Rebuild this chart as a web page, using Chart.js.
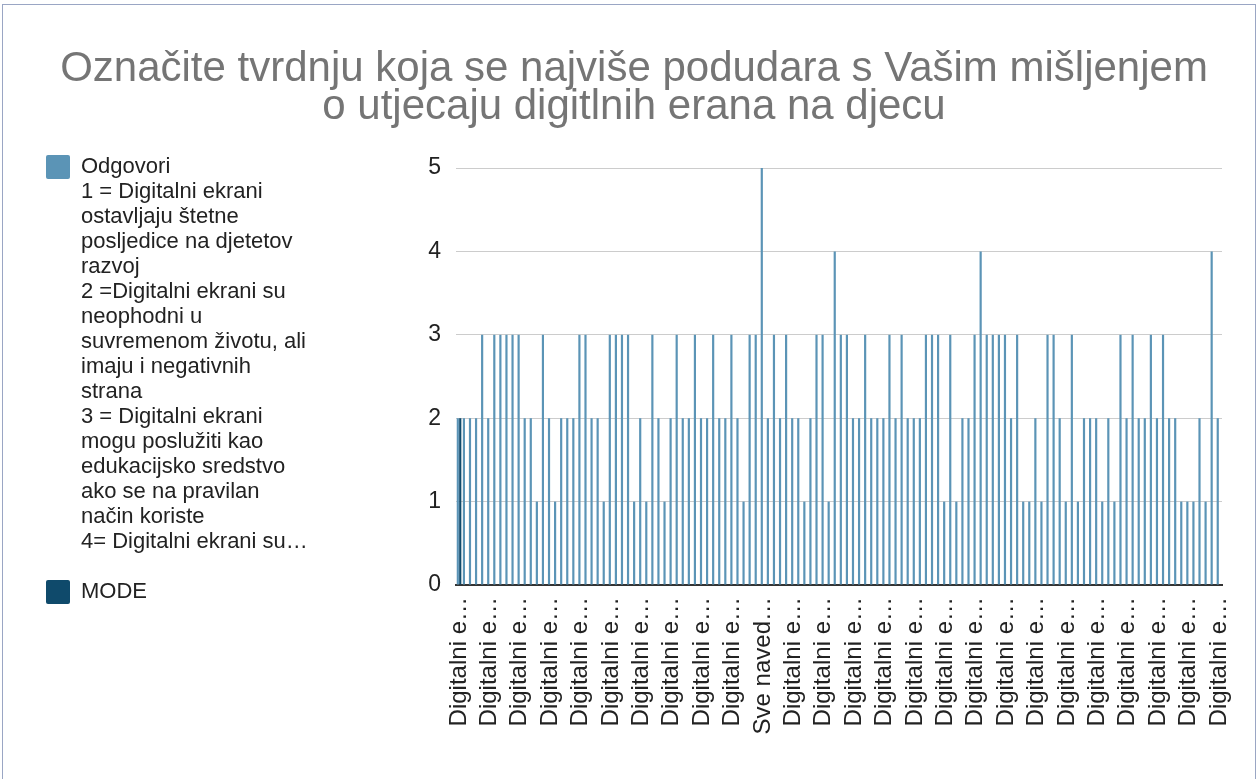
<!DOCTYPE html>
<html>
<head>
<meta charset="utf-8">
<script src="https://cdn.jsdelivr.net/npm/chart.js@4/dist/chart.umd.min.js"></script>
<style>
  html, body { margin: 0; padding: 0; background: #ffffff; }
  #wrap { position: relative; width: 1260px; height: 779px; overflow: hidden; }
  #frame { position: absolute; left: 2px; top: 4px; width: 1252px; height: 800px; border: 1px solid #9aa6c4; pointer-events: none; }
  canvas { display: block; }
</style>
</head>
<body>
<div id="wrap">
  <canvas id="c" width="1260" height="779"></canvas>
  <div id="frame"></div>
</div>
<script>
// ---- data ----
const titleLines = [
  'Označite tvrdnju koja se najviše podudara s Vašim mišljenjem',
  'o utjecaju digitlnih erana na djecu'
];
const answers = [
  'Digitalni ekrani ostavljaju štetne posljedice na djetetov razvoj',
  'Digitalni ekrani su neophodni u suvremenom životu, ali imaju i negativnih strana',
  'Digitalni ekrani mogu poslužiti kao edukacijsko sredstvo ako se na pravilan način koriste',
  'Digitalni ekrani su…',
  'Sve navedeno'
];
const tickLabels = ['Digitalni e…', 'Digitalni e…', 'Digitalni e…', 'Digitalni e…', 'Sve naved…'];
const odgovori = [
  2,2,2,2,3,2,3,3,3,3,
  3,2,2,1,3,2,1,2,2,2,
  3,3,2,2,1,3,3,3,3,1,
  2,1,3,2,1,2,3,2,2,3,
  2,2,3,2,2,3,2,1,3,3,
  5,2,3,2,3,2,2,1,2,3,
  3,1,4,3,3,2,2,3,2,2,
  2,3,2,3,2,2,2,3,3,3,
  1,3,1,2,2,3,4,3,3,3,
  3,2,3,1,1,2,1,3,3,2,
  1,3,1,2,2,2,1,2,1,3,
  2,3,2,2,3,2,3,2,2,1,
  1,1,2,1,4,2
];
const modeValues = odgovori.map((v, i) => i === 0 ? 2 : null);
const categories = odgovori.map(v => answers[v - 1]);
const legendLines = [
  'Odgovori',
  '1 = Digitalni ekrani',
  'ostavljaju štetne',
  'posljedice na djetetov',
  'razvoj',
  '2 =Digitalni ekrani su',
  'neophodni u',
  'suvremenom životu, ali',
  'imaju i negativnih',
  'strana',
  '3 = Digitalni ekrani',
  'mogu poslužiti kao',
  'edukacijsko sredstvo',
  'ako se na pravilan',
  'način koriste',
  '4= Digitalni ekrani su…',
  ''
];
const yTicks = [0, 1, 2, 3, 4, 5];

const FONT = "'Liberation Sans', Arial, sans-serif";
const PLOT_LEFT = 456;
const PAD_LEFT = 46;

new Chart(document.getElementById('c'), {
  type: 'bar',
  data: {
    labels: categories,
    datasets: [
      {
        label: 'Odgovori',
        data: odgovori,
        backgroundColor: '#5b94b6',
        borderWidth: 0,
        categoryPercentage: 0.8,
        barPercentage: 0.9
      },
      {
        label: 'MODE',
        data: modeValues,
        backgroundColor: '#0f4a6b',
        borderWidth: 0,
        categoryPercentage: 0.8,
        barPercentage: 0.9
      }
    ]
  },
  options: {
    responsive: false,
    animation: false,
    devicePixelRatio: 1,
    layout: { padding: { left: PAD_LEFT, right: 38, top: 0, bottom: 0 } },
    plugins: {
      tooltip: { enabled: false },
      title: {
        display: true,
        text: titleLines,
        color: '#757575',
        font: { family: FONT, size: 42, weight: 'normal', lineHeight: '38px' },
        padding: { top: 50, bottom: 42 }
      },
      legend: {
        display: true,
        position: 'left',
        align: 'start',
        title: { display: true, text: '', padding: 0, font: { size: 10, lineHeight: '155px' } },
        labels: {
          color: '#222222',
          font: { family: FONT, size: 22, lineHeight: '25px' },
          boxWidth: 24,
          boxHeight: 24,
          padding: 0,
          generateLabels: function(chart) {
            const items = Chart.defaults.plugins.legend.labels.generateLabels(chart);
            items.forEach(it => {
              if (it.datasetIndex === 0) it.text = legendLines;
              it.borderRadius = 2;
              it.lineWidth = 0;
            });
            return items;
          }
        }
      }
    },
    scales: {
      x: {
        grid: { display: false, drawTicks: false },
        border: { display: true, color: '#333333', width: 2 },
        ticks: {
          autoSkip: false,
          maxRotation: 90,
          minRotation: 90,
          padding: 12,
          color: '#222222',
          font: { family: FONT, size: 24 },
          callback: function(value, index) {
            return index % 5 === 0 ? tickLabels[odgovori[index] - 1] : null;
          }
        },
        afterFit: function(s) { s.height = 194; }
      },
      y: {
        min: 0,
        max: 5,
        afterBuildTicks: function(s) { s.ticks = yTicks.map(v => ({ value: v })); },
        grid: {
          drawTicks: false,
          color: function(ctx) { return ctx.tick && ctx.tick.value === 0 ? 'rgba(0,0,0,0)' : '#cccccc'; },
          lineWidth: 1
        },
        border: { display: false },
        ticks: {
          padding: 15,
          color: '#222222',
          font: { family: FONT, size: 23 }
        },
        afterFit: function(s) {
          const lw = s.chart.legend ? s.chart.legend.width : 0;
          s.width = Math.max(40, PLOT_LEFT - PAD_LEFT - lw);
        }
      }
    }
  }
});
</script>
</body>
</html>
